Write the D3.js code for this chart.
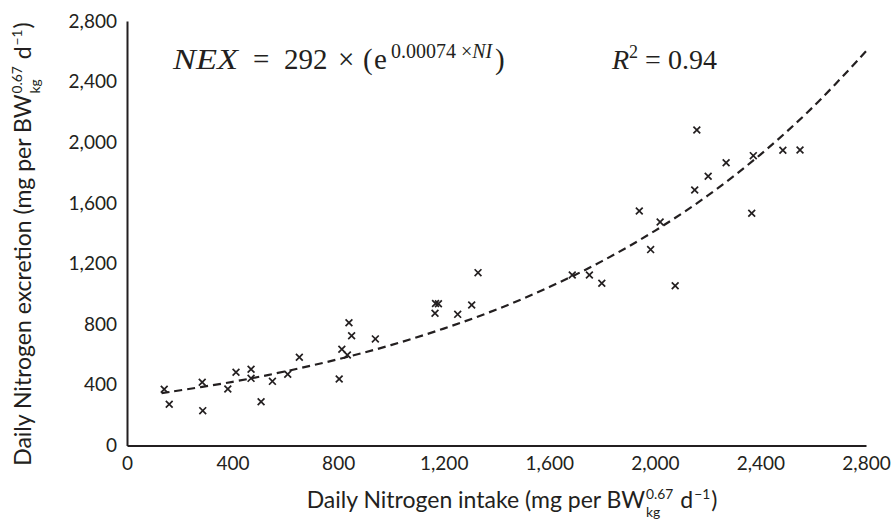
<!DOCTYPE html>
<html><head><meta charset="utf-8">
<script src="https://cdn.jsdelivr.net/npm/d3@7"></script>
<style>body{margin:0;background:#fff} svg{display:block}</style>
</head><body><svg id="c" width="894" height="529"></svg>
<script>
// Observed points: daily nitrogen intake (NI) vs excretion (NEX)
const intakeNI = [141,160,285,287,382,413,470,470,508,551,609,653,814,804,835,841,851,941,1167,1169,1180,1253,1306,1330,1687,1752,1799,2077,1941,1984,2020,2151,2159,2202,2270,2367,2373,2485,2550];
const excretionNEX = [371,272,417,230,373,483,503,443,289,423,470,582,635,439,597,810,724,703,872,937,935,865,927,1140,1125,1125,1070,1054,1547,1292,1474,1685,2081,1776,1865,1532,1912,1947,1949];
// Trend line
const trendNI = [131,400,600,800,1000,1200,1400,1600,1800,2000,2200,2400,2600,2800];
const trendNEX = [345,420,489,569,662,771,897,1045,1216,1416,1648,1919,2234,2600];
const xTicks = [0,400,800,1200,1600,2000,2400,2800];
const yTicks = [0,400,800,1200,1600,2000,2400,2800];

const ink = "#231f20";
const svg = d3.select("#c");
const x = d3.scaleLinear().domain([0,2800]).range([127,866]);
const y = d3.scaleLinear().domain([0,2800]).range([445.5,21]);
const fmt = d3.format(",");
const tf = "Lato, 'Open Sans', sans-serif";

// axes
const gx = svg.append("g").attr("transform","translate(0,445.5)")
  .call(d3.axisBottom(x).tickValues(xTicks).tickSize(0).tickPadding(11).tickFormat(fmt));
const gy = svg.append("g").attr("transform","translate(127,0)")
  .call(d3.axisLeft(y).tickValues(yTicks).tickSize(0).tickPadding(10).tickFormat(fmt));
[gx,gy].forEach(g=>{
  g.select(".domain").attr("stroke",ink).attr("stroke-width",2);
  g.selectAll("text").attr("fill",ink).style("font-family",tf).style("font-size","19px");
});

// trend line
const line = d3.line().x(d=>x(d[0])).y(d=>y(d[1])).curve(d3.curveCatmullRom);
svg.append("path").datum(trendNI.map((v,i)=>[v,trendNEX[i]]))
  .attr("d",line).attr("fill","none").attr("stroke",ink)
  .attr("stroke-width",2.2).attr("stroke-dasharray","8,5");

// markers
const s = 3.4;
svg.append("g").selectAll("path").data(intakeNI.map((v,i)=>[v,excretionNEX[i]]))
  .join("path")
  .attr("d",d=>{const cx=x(d[0]),cy=y(d[1]);return `M${cx-s},${cy-s}L${cx+s},${cy+s}M${cx-s},${cy+s}L${cx+s},${cy-s}`;})
  .attr("stroke",ink).attr("stroke-width",1.7).attr("fill","none");

// axis titles with stacked super/subscript
function axisTitle(g, pre, size){
  g.attr("fill",ink).style("font-family",tf);
  const small = size*0.6;
  const t1 = g.append("text").attr("x",0).attr("y",0).style("font-size",size+"px").text(pre);
  const w1 = t1.node().getComputedTextLength();
  const sp = g.append("text").attr("x",w1+1).attr("y",-size*0.4).style("font-size",small+"px").text("0.67");
  const sb = g.append("text").attr("x",w1+1).attr("y",size*0.38).style("font-size",small+"px").text("kg");
  const ws = Math.max(sp.node().getComputedTextLength(), sb.node().getComputedTextLength());
  let cx = w1+1+ws+size*0.3;
  const t2 = g.append("text").attr("x",cx).attr("y",0).style("font-size",size+"px").text("d");
  cx += t2.node().getComputedTextLength()+1;
  const s2 = g.append("text").attr("x",cx).attr("y",-size*0.4).style("font-size",small+"px").text("\u22121");
  cx += s2.node().getComputedTextLength()+1;
  const t3 = g.append("text").attr("x",cx).attr("y",0).style("font-size",size+"px").text(")");
  cx += t3.node().getComputedTextLength();
  return cx;
}
const gxT = svg.append("g");
const wx = axisTitle(gxT, "Daily Nitrogen intake (mg per BW", 23);
gxT.attr("transform",`translate(${512-wx/2},508)`);
const gyT = svg.append("g");
const wy = axisTitle(gyT, "Daily Nitrogen excretion (mg per BW", 23);
gyT.attr("transform",`translate(31,${244+wy/2}) rotate(-90)`);

// equation
const ef = "'Liberation Serif', 'DejaVu Serif', serif";
const eq = svg.append("g").attr("fill",ink).style("font-family",ef);
const put = (t,xx,yy,size,italic)=>eq.append("text").attr("x",xx).attr("y",yy)
  .style("font-size",size+"px").style("font-style",italic?"italic":"normal").text(t);
put("NEX",173,69,29,true).attr("textLength",65).attr("lengthAdjust","spacingAndGlyphs");
put("=",253,69,29,false);
put("292",284,69,29,false);
put("\u00d7",338,69,29,false);
put("(",363,69,29,false);
put("e",374,69,29,false);
const sup = eq.append("text").attr("x",391).attr("y",58).style("font-size","20px");
sup.append("tspan").text("0.00074 \u00d7");
sup.append("tspan").style("font-style","italic").text("NI");
put(")",495,69,29,false);
const r2 = eq.append("text").attr("x",612).attr("y",69).style("font-size","28px");
r2.append("tspan").style("font-style","italic").text("R");
r2.append("tspan").attr("dy",-11).style("font-size","18px").text("2");
r2.append("tspan").attr("dy",11).text(" = 0.94");
</script></body></html>
